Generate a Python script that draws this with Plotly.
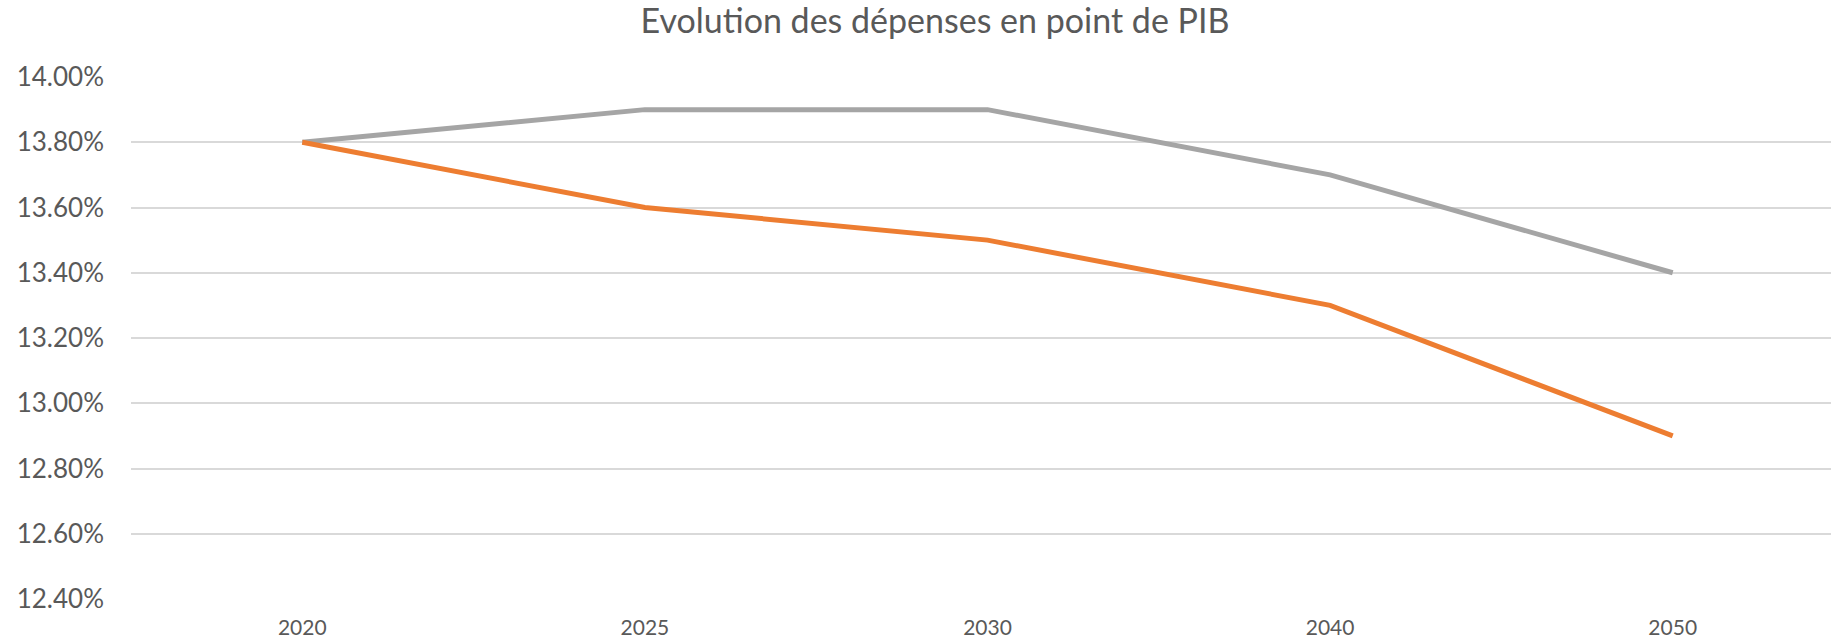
import plotly.graph_objects as go

years = ["2020", "2025", "2030", "2040", "2050"]
serie_grise = [0.138, 0.139, 0.139, 0.137, 0.134]
serie_orange = [0.138, 0.136, 0.135, 0.133, 0.129]
y_ticks = [0.124, 0.126, 0.128, 0.130, 0.132, 0.134, 0.136, 0.138, 0.140]

W, H = 1831, 641
FONT = "Lato, 'Open Sans', sans-serif"

fig = go.Figure()
fig.add_trace(go.Scatter(x=list(range(len(years))), y=serie_grise, mode="lines",
                         line=dict(color="#A5A5A5", width=5), showlegend=False))
fig.add_trace(go.Scatter(x=list(range(len(years))), y=serie_orange, mode="lines",
                         line=dict(color="#ED7D31", width=5), showlegend=False))

fig.update_layout(
    width=W, height=H,
    margin=dict(l=131, r=0, t=77, b=42),
    paper_bgcolor="white", plot_bgcolor="white",
    font=dict(family=FONT, color="#595959"),
    title=dict(text="Evolution des dépenses en point de PIB",
               x=935 / W, xanchor="center", xref="container",
               y=1 - 21 / H, yanchor="middle", yref="container",
               font=dict(size=34, color="#595959", family=FONT)),
)
fig.update_xaxes(
    range=[-0.5, 4.462], tickmode="array", tickvals=list(range(len(years))),
    ticktext=years, showgrid=False, zeroline=False, showline=False,
    tickfont=dict(size=21, color="#595959"), ticklabelstandoff=14,
)
fig.update_yaxes(
    range=[0.124, 0.140], tickmode="array", tickvals=y_ticks,
    ticktext=[f"{v*100:.2f}%" for v in y_ticks],
    showgrid=True, gridcolor="#D9D9D9", gridwidth=1.5, zeroline=False, showline=False,
    tickfont=dict(size=26, color="#595959"), ticklabelstandoff=26,
)

fig.write_html("out.html", config={"displayModeBar": False},
               post_script="document.body.style.margin='0';document.body.style.overflow='hidden';")
